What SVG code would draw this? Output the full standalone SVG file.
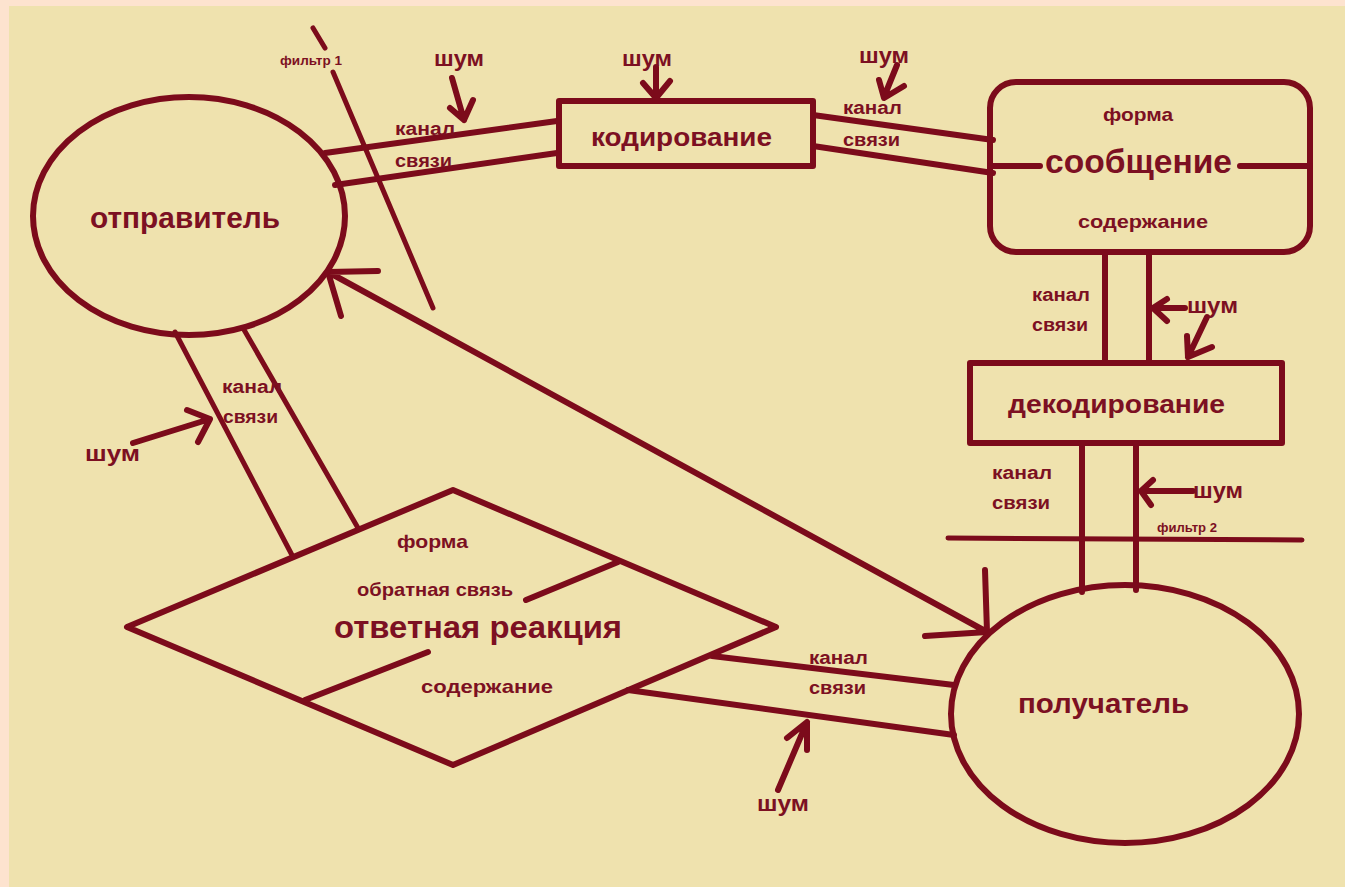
<svg xmlns="http://www.w3.org/2000/svg" width="1345" height="887" viewBox="0 0 1345 887">
<style>
.ln{fill:none;stroke:#7c0b1b;stroke-width:6;stroke-linecap:round;stroke-linejoin:round}
.thin{fill:none;stroke:#7c0b1b;stroke-width:5;stroke-linecap:round}
.shape{fill:none;stroke:#7c0b1b;stroke-width:6;stroke-linejoin:round}
text{font-family:"Liberation Sans",Arial,sans-serif;font-weight:bold;fill:#7c1022}
.lab{font-size:18px}
.shum{font-size:22px}
.small{font-size:12px}
.sub{font-size:19px}
</style>
<rect x="0" y="0" width="1345" height="887" fill="#fde3cf"/>
<rect x="9" y="6" width="1336" height="881" fill="#efe2ae"/>

<g id="connectors">
  <!-- filter 1 -->
  <path class="thin" d="M313 28 L325 48 M333 72 L433 308"/>
  <!-- sender to coding channel -->
  <path class="ln" d="M325 153 L557 121 M335 185 L557 153"/>
  <!-- coding to message channel -->
  <path class="ln" d="M813 115 L993 140 M813 146 L993 173"/>
  <!-- message to decoding -->
  <path class="ln" d="M1105 252 L1105 363 M1149 252 L1149 363"/>
  <!-- decoding to receiver -->
  <path class="ln" d="M1082 443 L1082 592 M1136 443 L1136 590"/>
  <!-- filter 2 -->
  <path class="thin" d="M948 538 L1302 540"/>
  <!-- sender to diamond channel -->
  <path class="thin" d="M175 332 L293 557 M243 328 L358 528"/>
  <!-- diamond to receiver channel -->
  <path class="ln" d="M712 656 L954 685 M628 690 L954 735"/>
  <!-- long double arrow -->
  <path class="ln" d="M328 272 L987 632 M378 271 L328 272 L341 316 M925 636 L987 632 L985 570"/>
  <!-- noise arrows -->
  <path class="ln" d="M452 78 L464 120 M450 108 L464 120 L473 100"/>
  <path class="ln" d="M656 67 L656 97 M643 83 L656 98 L670 81"/>
  <path class="ln" d="M897 65 L884 97 M879 80 L884 98 L904 86"/>
  <path class="ln" d="M1185 308 L1153 308 M1167 299 L1153 308 L1167 321"/>
  <path class="ln" d="M1207 317 L1188 357 M1187 336 L1188 357 L1212 347"/>
  <path class="ln" d="M1193 491 L1141 491 M1153 480 L1141 491 L1151 505"/>
  <path class="ln" d="M133 443 L210 419 M187 410 L210 419 L198 442"/>
  <path class="ln" d="M778 790 L807 722 M787 738 L807 722 L807 750"/>
</g>

<g id="labels">
  <text class="small" x="280" y="65" textLength="62" lengthAdjust="spacingAndGlyphs">фильтр 1</text>
  <text class="shum" x="434" y="66" textLength="50" lengthAdjust="spacingAndGlyphs">шум</text>
  <text class="lab" x="395" y="135" textLength="60" lengthAdjust="spacingAndGlyphs">канал</text>
  <text class="lab" x="395" y="167" textLength="57" lengthAdjust="spacingAndGlyphs">связи</text>
  <text class="shum" x="622" y="66" textLength="50" lengthAdjust="spacingAndGlyphs">шум</text>
  <text class="shum" x="859" y="63" textLength="50" lengthAdjust="spacingAndGlyphs">шум</text>
  <text class="lab" x="843" y="114" textLength="59" lengthAdjust="spacingAndGlyphs">канал</text>
  <text class="lab" x="843" y="146" textLength="57" lengthAdjust="spacingAndGlyphs">связи</text>
  <text class="lab" x="1032" y="301" textLength="58" lengthAdjust="spacingAndGlyphs">канал</text>
  <text class="lab" x="1032" y="331" textLength="56" lengthAdjust="spacingAndGlyphs">связи</text>
  <text class="shum" x="1187" y="313" textLength="51" lengthAdjust="spacingAndGlyphs">шум</text>
  <text class="lab" x="992" y="479" textLength="60" lengthAdjust="spacingAndGlyphs">канал</text>
  <text class="lab" x="992" y="509" textLength="58" lengthAdjust="spacingAndGlyphs">связи</text>
  <text class="shum" x="1193" y="498" textLength="50" lengthAdjust="spacingAndGlyphs">шум</text>
  <text class="small" x="1157" y="532" textLength="60" lengthAdjust="spacingAndGlyphs">фильтр 2</text>
  <text class="lab" x="222" y="393" textLength="60" lengthAdjust="spacingAndGlyphs">канал</text>
  <text class="lab" x="223" y="423" textLength="55" lengthAdjust="spacingAndGlyphs">связи</text>
  <text class="shum" x="85" y="461" textLength="55" lengthAdjust="spacingAndGlyphs">шум</text>
  <text class="lab" x="809" y="664" textLength="59" lengthAdjust="spacingAndGlyphs">канал</text>
  <text class="lab" x="809" y="694" textLength="57" lengthAdjust="spacingAndGlyphs">связи</text>
  <text class="shum" x="757" y="811" textLength="52" lengthAdjust="spacingAndGlyphs">шум</text>
</g>

<g id="sender">
  <ellipse class="shape" cx="189" cy="216" rx="156" ry="119"/>
  <text x="90" y="228" font-size="30" textLength="190" lengthAdjust="spacingAndGlyphs">отправитель</text>
</g>

<g id="coding">
  <rect class="shape" x="559" y="101" width="254" height="65"/>
  <text x="591" y="146" font-size="26" textLength="181" lengthAdjust="spacingAndGlyphs">кодирование</text>
</g>

<g id="message">
  <rect class="shape" x="990" y="82" width="320" height="170" rx="26" ry="26"/>
  <path class="ln" d="M990 166 L1040 166 M1240 166 L1310 166"/>
  <text class="sub" x="1103" y="121" textLength="70" lengthAdjust="spacingAndGlyphs">форма</text>
  <text x="1045" y="173" font-size="34" textLength="187" lengthAdjust="spacingAndGlyphs">сообщение</text>
  <text class="sub" x="1078" y="228" textLength="130" lengthAdjust="spacingAndGlyphs">содержание</text>
</g>

<g id="decoding">
  <rect class="shape" x="970" y="363" width="312" height="80"/>
  <text x="1008" y="413" font-size="26" textLength="217" lengthAdjust="spacingAndGlyphs">декодирование</text>
</g>

<g id="receiver">
  <ellipse class="shape" cx="1125" cy="714" rx="174" ry="129"/>
  <text x="1018" y="713" font-size="28" textLength="171" lengthAdjust="spacingAndGlyphs">получатель</text>
</g>

<g id="response">
  <polygon class="shape" points="127,627 453,490 776,627 453,765"/>
  <path class="ln" d="M618 562 L526 600 M305 700 L428 652"/>
  <text class="sub" x="397" y="548" textLength="71" lengthAdjust="spacingAndGlyphs">форма</text>
  <text class="sub" x="357" y="596" textLength="156" lengthAdjust="spacingAndGlyphs" style="font-weight:600">обратная связь</text>
  <text x="334" y="638" font-size="32" textLength="288" lengthAdjust="spacingAndGlyphs">ответная реакция</text>
  <text class="sub" x="421" y="693" textLength="132" lengthAdjust="spacingAndGlyphs">содержание</text>
</g>
</svg>
